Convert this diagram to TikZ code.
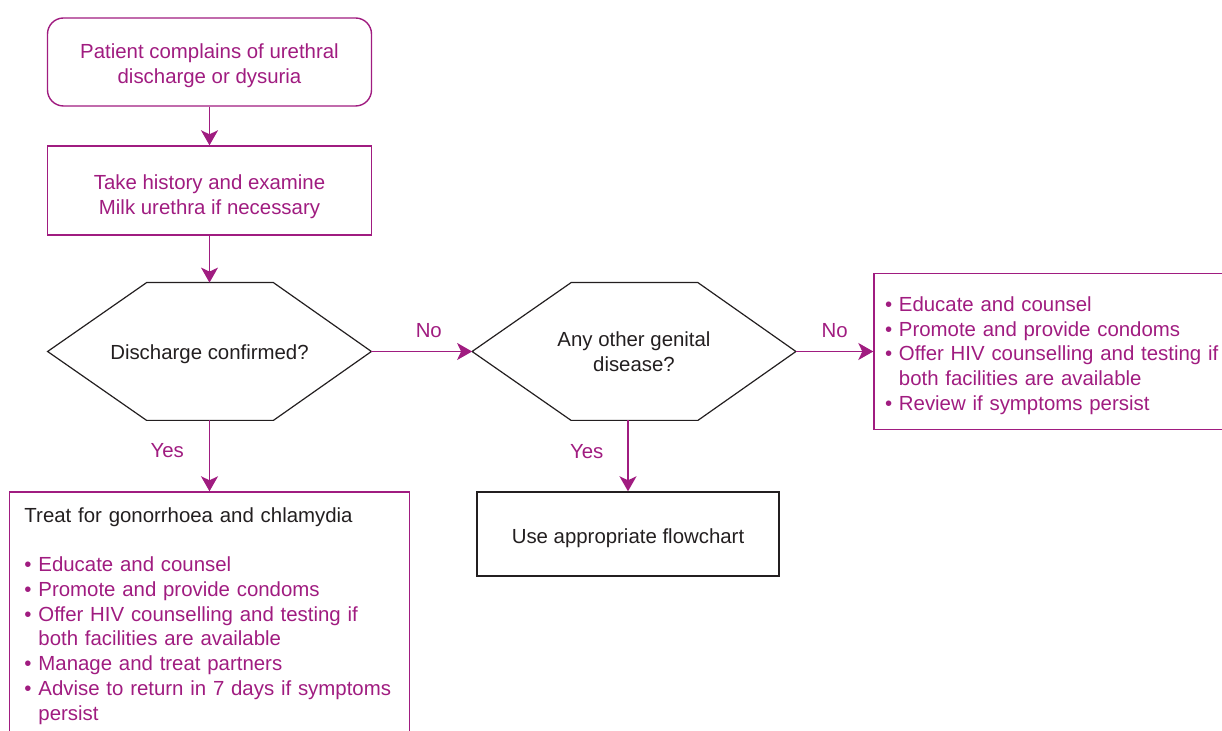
\documentclass[tikz,border=0pt]{standalone}
\usepackage{fontspec}
\setmainfont{Liberation Sans}
\usetikzlibrary{arrows.meta}
\definecolor{plum}{RGB}{160,28,128}
\definecolor{ink}{RGB}{35,31,32}

\begin{document}
\begin{tikzpicture}[x=0.5pt,y=-0.5pt,font=\fontsize{10.2}{12.35}\selectfont,
    box/.style={draw=plum,line width=0.7pt,text=plum,inner sep=0pt,align=center},
    decision/.style={inner sep=0pt,minimum width=161.5pt,minimum height=68.5pt,text=ink,align=center},
    hexline/.style={draw=ink,line width=0.6pt},
    arr/.style={draw=plum,line width=0.7pt,-{Stealth[length=7.5pt,width=8.5pt,inset=2pt]}},
    lbl/.style={text=plum,inner sep=0pt}]
        \path[use as bounding box,clip] (0,0) rectangle (1222,731);
        \node[box,rounded corners=8pt,minimum width=162pt,minimum height=44pt] (start) at (209.5,62) {\rule{0pt}{11.4pt}Patient complains of urethral\\discharge or dysuria};
        \node[box,minimum width=162pt,minimum height=44.5pt] (hist) at (209.5,190.5) {\rule{0pt}{13.4pt}Take history and examine\\Milk urethra if necessary};
        \node[decision] (d1) at (209.5,351.5) {\rule{0pt}{10.4pt}Discharge confirmed?};
        \node[decision] (d2) at (634,351.5) {Any other genital\\disease?};
        \node[box,align=left,inner xsep=5.5pt,text width=172pt,minimum height=78pt] (rbox) at (1057,351.5) {%
            \rule{0pt}{11.4pt}\textbullet\ Educate and counsel\\
            \textbullet\ Promote and provide condoms\\
            \textbullet\ Offer HIV counselling and testing if\\
            \phantom{\textbullet\ }both facilities are available\\
            \textbullet\ Review if symptoms persist};
        \node[box,align=left,inner xsep=7.5pt,text width=185pt,minimum height=124pt] (treat) at (209.5,616) {%
            \textcolor{ink}{Treat for gonorrhoea and chlamydia}\\[12.35pt]
            \textbullet\ Educate and counsel\\
            \textbullet\ Promote and provide condoms\\
            \textbullet\ Offer HIV counselling and testing if\\
            \phantom{\textbullet\ }both facilities are available\\
            \textbullet\ Manage and treat partners\\
            \textbullet\ Advise to return in 7 days if symptoms\\
            \phantom{\textbullet\ }persist};
        \node[box,draw=ink,text=ink,minimum width=151pt,minimum height=42pt] (flow) at (628,534) {\rule{0pt}{11.4pt}Use appropriate flowchart};
        \foreach \d in {d1,d2}
            \draw[hexline] (\d.west) -- ([xshift=49.5pt]\d.north west) -- ([xshift=-49pt]\d.north east)
                -- (\d.east) -- ([xshift=-49pt]\d.south east) -- ([xshift=49.5pt]\d.south west) -- cycle;
        \draw[arr] (start) -- (hist);
        \draw[arr] (hist) -- (d1);
        \draw[arr] (d1) -- node[lbl,pos=0.43,left=12.5pt] {Yes} (treat);
        \draw[arr] (d1) -- node[lbl,pos=0.57,above=6.4pt] {No} (d2);
        \draw[arr] (d2) -- node[lbl,pos=0.5,above=6.4pt] {No} (rbox);
        \draw[arr] (d2.south -| flow.north) -- node[lbl,pos=0.44,left=12pt] {Yes} (flow.north);
\end{tikzpicture}
\end{document}
